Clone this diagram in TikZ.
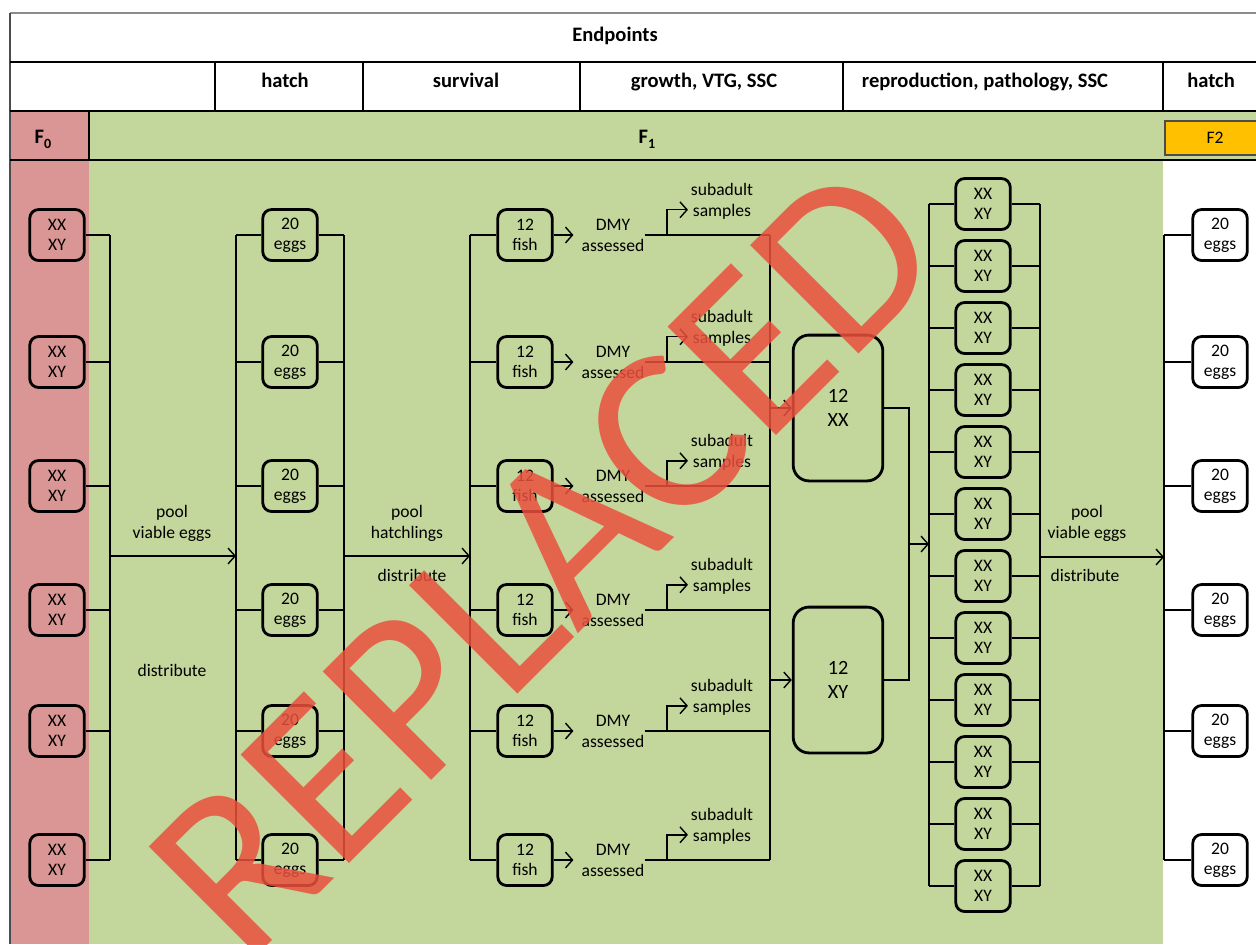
\documentclass[tikz,border=0pt]{standalone}
\usepackage{fontspec}
\setmainfont{Carlito}
\usetikzlibrary{arrows.meta}

\definecolor{parentpink}{RGB}{217,150,148}
\definecolor{offgreen}{RGB}{195,214,155}
\definecolor{ftwoorange}{RGB}{255,192,0}
\definecolor{stampred}{RGB}{234,80,62}

\newcommand{\fgen}[1]{F\raisebox{-0.45ex}{\fontsize{8}{9}\selectfont #1}}

\begin{document}
\begin{tikzpicture}[
    x=0.02cm, y=-0.02cm,
    tank/.style={rectangle, draw, line width=1.6pt, rounded corners=5pt, minimum width=31pt, minimum height=29pt, inner sep=0pt, align=center, font=\fontsize{10}{11.5}\selectfont},
    bigtank/.style={tank, rounded corners=9pt, minimum width=51pt, minimum height=83pt, font=\fontsize{11.5}{14}\selectfont},
    note/.style={align=center, inner sep=0pt, font=\fontsize{10}{12}\selectfont},
    head/.style={font=\bfseries\fontsize{11.7}{13}\selectfont, text height=1.6ex, text depth=0.45ex},
    link/.style={line width=0.8pt},
    arrow/.style={link, -{Straight Barb[length=4pt, width=9pt]}}
]
    \useasboundingbox (0,0) rectangle (1256,944);
    \fill[white] (0,0) rectangle (1256,944);

    % generation bands
    \fill[parentpink] (10,111) rectangle (89,944);
    \fill[offgreen] (89,111) rectangle (1256,160);
    \fill[offgreen] (89,160) rectangle (1163,944);

    % table rules
    \draw[black!45, line width=0.9pt] (10,13) -- (1256,13);
    \draw[black!70, line width=0.8pt] (10,13) -- (10,944);
    \draw[line width=1.4pt] (10,62) -- (1256,62);
    \draw[line width=1.4pt] (10,111) -- (1256,111);
    \draw[line width=1.4pt] (10,160) -- (1256,160);
    \foreach \xd in {215,363,580,843,1163}
        \draw[line width=1pt] (\xd,62) -- (\xd,111);
    \draw[line width=1pt] (89,111) -- (89,160);
    \draw[black!70, fill=ftwoorange, line width=0.7pt] (1165,121) rectangle (1262,155);

    % headings
    \node[head] (endpoints) at (615,37) {Endpoints};
    \node[head] (hatchone) at (285,83) {hatch};
    \node[head] (survival) at (466,83) {survival};
    \node[head] (growth) at (704,83) {growth, VTG, SSC};
    \node[head] (repro) at (985,83) {reproduction, pathology, SSC};
    \node[head] (hatchtwo) at (1211,83) {hatch};
    \node[head] (fzero) at (43,139) {\fgen{0}};
    \node[head] (fone) at (647,139) {\fgen{1}};
    \node[font=\fontsize{10}{12}\selectfont] (ftwo) at (1215,138) {F2};

    % six-row columns
    \foreach \y [count=\i] in {235,362,486,610,731,860} {
        \node[tank, fill=parentpink] (par\i) at (57,\y) {XX\\XY};
        \node[tank] (egg\i) at (290,\y) {20\\eggs};
        \node[tank] (fish\i) at (525,\y) {12\\fish};
        \node[note] (dmy\i) at (613,\y) {DMY\\assessed};
        \node[note] (sub\i) at (722,\y-34) {subadult\\samples};
        \node[tank, fill=white] (next\i) at (1220,\y) {20\\eggs};

        \coordinate (ja\i) at (110,\y);
        \coordinate (jb\i) at (236,\y);
        \coordinate (jc\i) at (344,\y);
        \coordinate (jd\i) at (470,\y);
        \coordinate (jg\i) at (667,\y);
        \coordinate (jf\i) at (770,\y);
        \coordinate (jn\i) at (1164,\y);

        \draw[link] (par\i) -- (ja\i);
        \draw[link] (jb\i) -- (egg\i) -- (jc\i);
        \draw[link] (jd\i) -- (fish\i);
        \draw[arrow, shorten >=4.5pt] (fish\i) -- (dmy\i);
        \draw[link] (dmy\i.east) -- (jf\i);
        \draw[arrow, shorten >=1.5pt] (jg\i) |- ([yshift=-5pt]sub\i.west);
        \draw[link] (jn\i) -- (next\i);
    }
    \draw[link] (ja1) -- (ja6);
    \draw[link] (jb1) -- (jb6);
    \draw[link] (jc1) -- (jc6);
    \draw[link] (jd1) -- (jd6);
    \draw[link] (jf1) -- (jf6);
    \draw[link] (jn1) -- (jn6);

    % pooling steps
    \coordinate (poola) at (110,556);
    \coordinate (splita) at (236,556);
    \draw[arrow] (poola) -- (splita);
    \node[note] (poolalbl) at (172,523) {pool\\viable eggs};
    \node[note] (distalbl) at (172,670) {distribute};

    \coordinate (poolb) at (344,556);
    \coordinate (splitb) at (470,556);
    \draw[arrow] (poolb) -- (splitb);
    \node[note] (poolblbl) at (407,523) {pool\\hatchlings};
    \node[note] (distblbl) at (412,575) {distribute};

    % sexes split
    \node[bigtank] (xx) at (838,408) {12\\XX};
    \node[bigtank] (xy) at (838,680) {12\\XY};
    \coordinate (jh1) at (770,408);
    \coordinate (jh2) at (770,680);
    \draw[arrow] (jh1) -- (xx);
    \draw[arrow] (jh2) -- (xy);
    \coordinate (jm1) at (909,408);
    \coordinate (jm2) at (909,680);
    \draw[link] (xx) -- (jm1) -- (jm2) -- (xy);
    \coordinate (jm) at (909,544);
    \coordinate (jp) at (929,544);
    \draw[arrow] (jm) -- (jp);

    % breeding pairs
    \foreach \k [evaluate=\k as \yy using 142+62*\k] in {1,...,12} {
        \node[tank] (pair\k) at (983,\yy) {XX\\XY};
        \coordinate (jl\k) at (929,\yy);
        \coordinate (jr\k) at (1040,\yy);
        \draw[link] (jl\k) -- (pair\k) -- (jr\k);
    }
    \draw[link] (jl1) -- (jl12);
    \draw[link] (jr1) -- (jr12);

    \coordinate (poolc) at (1040,557);
    \coordinate (splitc) at (1164,557);
    \draw[arrow] (poolc) -- (splitc);
    \node[note] (poolclbl) at (1087,523) {pool\\viable eggs};
    \node[note] (distclbl) at (1085,575) {distribute};

    % stamp
    \node[text=stampred, opacity=0.85, rotate=45, inner sep=0pt, font=\fontsize{136}{136}\selectfont] (stamp) at (544,560) {REPLACED};
\end{tikzpicture}
\end{document}
